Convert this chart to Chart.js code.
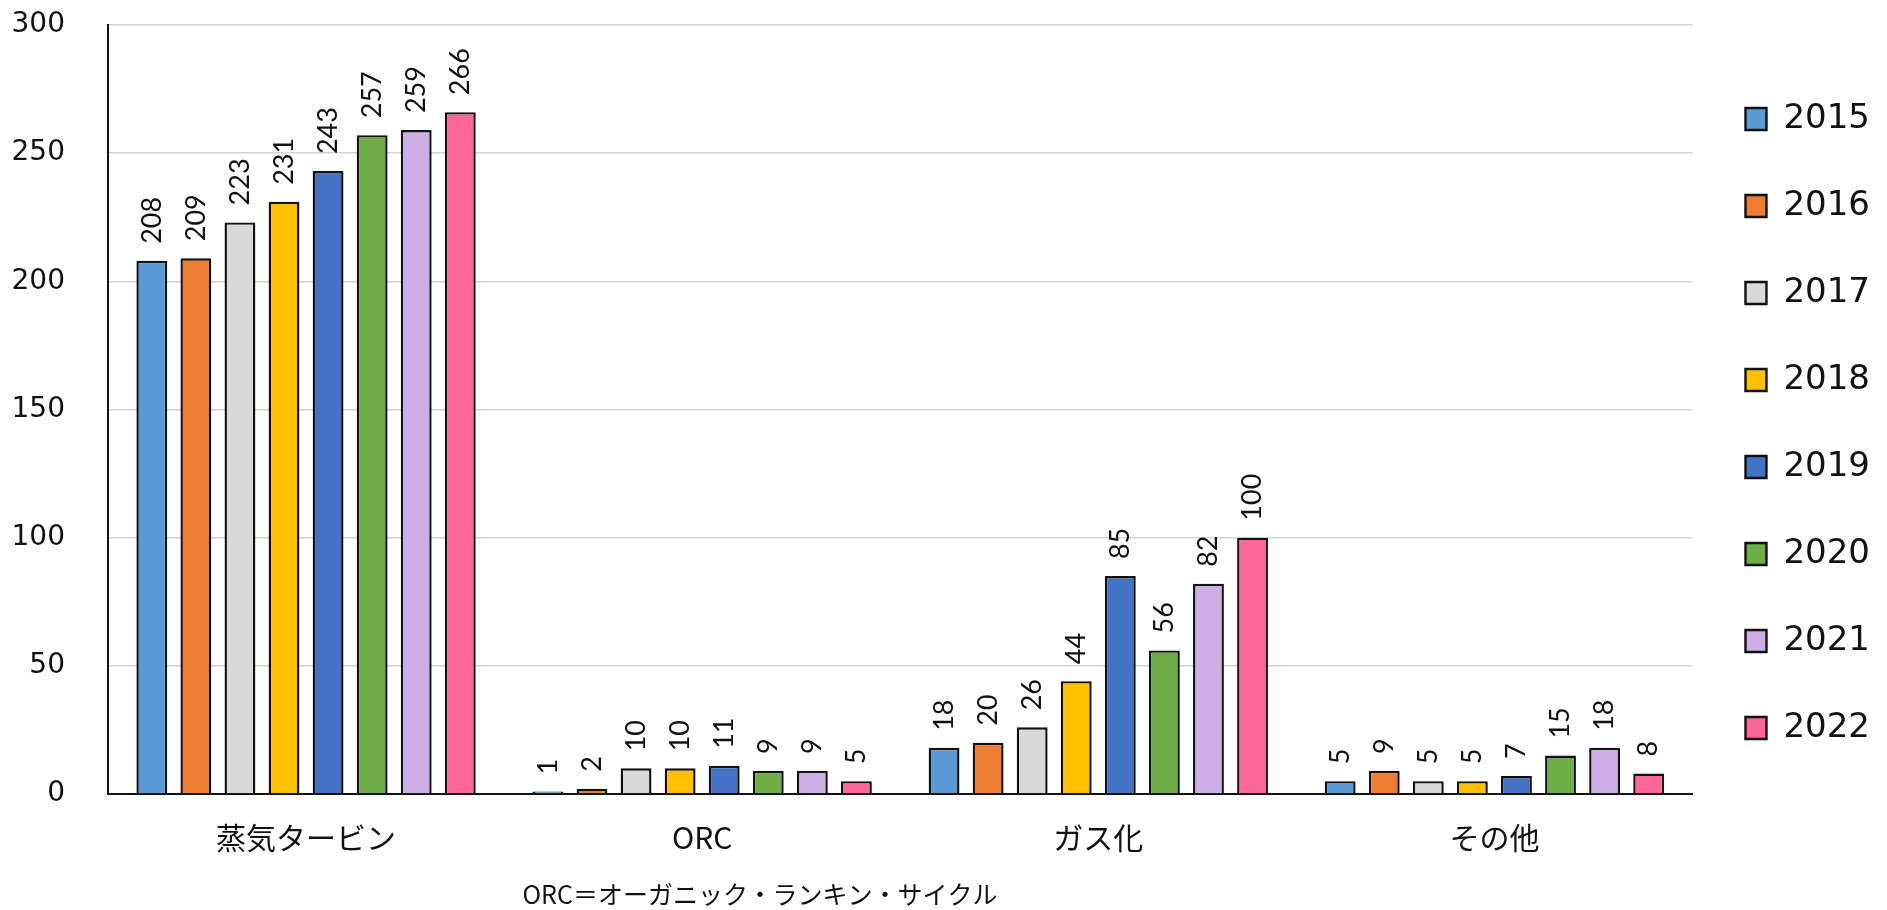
<!DOCTYPE html>
<html>
<head>
<meta charset="utf-8">
<script src="https://cdn.jsdelivr.net/npm/chart.js@4.4.1/dist/chart.umd.min.js"></script>
<style>
html,body{margin:0;padding:0;background:#ffffff;}
canvas{display:block;}
</style>
</head>
<body>
<canvas id="c" width="1887" height="910"></canvas>
<script>
// ---- data ----
const categories = ['蒸気タービン', 'ORC', 'ガス化', 'その他'];
const years = ['2015', '2016', '2017', '2018', '2019', '2020', '2021', '2022'];
const v2015 = [208, 1, 18, 5];
const v2016 = [209, 2, 20, 9];
const v2017 = [223, 10, 26, 5];
const v2018 = [231, 10, 44, 5];
const v2019 = [243, 11, 85, 7];
const v2020 = [257, 9, 56, 15];
const v2021 = [259, 9, 82, 18];
const v2022 = [266, 5, 100, 8];
const yMin = 0;
const yMax = 300;
const yStep = 50;
const noteText = 'ORC＝オーガニック・ランキン・サイクル';

// ---- styles ----
const seriesValues = [v2015, v2016, v2017, v2018, v2019, v2020, v2021, v2022];
const seriesColors = ['#5B9BD5', '#ED7D31', '#D9D9D9', '#FFC000', '#4472C4', '#70AD47', '#CDAFE6', '#FF6699'];

const datasets = years.map((y, i) => ({
  label: y,
  data: seriesValues[i],
  backgroundColor: seriesColors[i],
  borderColor: '#111111',
  borderWidth: 2.4
}));

const valueLabels = {
  id: 'valueLabels',
  afterDatasetsDraw(chart) {
    const ctx = chart.ctx;
    ctx.save();
    ctx.font = '27px Lato, "DejaVu Sans", sans-serif';
    ctx.fillStyle = '#111111';
    chart.data.datasets.forEach((ds, i) => {
      const meta = chart.getDatasetMeta(i);
      meta.data.forEach((el, j) => {
        ctx.save();
        ctx.translate(el.x, el.y - 17);
        ctx.rotate(-Math.PI / 2);
        ctx.textAlign = 'left';
        ctx.textBaseline = 'middle';
        ctx.fillText(String(ds.data[j]), 0, 0);
        ctx.restore();
      });
    });
    ctx.restore();
  }
};

const footNote = {
  id: 'footNote',
  afterDraw(chart) {
    const ctx = chart.ctx;
    ctx.save();
    ctx.font = '25px "Noto Sans CJK JP", sans-serif';
    ctx.fillStyle = '#111111';
    ctx.textAlign = 'center';
    ctx.textBaseline = 'middle';
    ctx.fillText(noteText, 760, 894);
    ctx.restore();
  }
};

new Chart(document.getElementById('c'), {
  type: 'bar',
  data: { labels: categories, datasets: datasets },
  plugins: [valueLabels, footNote],
  options: {
    responsive: false,
    animation: false,
    layout: { padding: { top: 25, right: 7, bottom: 0, left: 0 } },
    datasets: { bar: { categoryPercentage: 0.89, barPercentage: 0.70 } },
    plugins: {
      tooltip: { enabled: false },
      legend: {
        position: 'right',
        align: 'start',
        title: { display: true, text: ' ', font: { size: 10 }, padding: { top: 0, bottom: 12 } },
        labels: {
          font: { family: '"DejaVu Sans", sans-serif', size: 34 },
          color: '#111111',
          boxWidth: 21,
          boxHeight: 22,
          padding: 53
        }
      }
    },
    scales: {
      x: {
        grid: { display: false, drawTicks: false },
        border: { display: true, color: '#111111', width: 2 },
        ticks: {
          font: { family: '"Noto Sans CJK JP", sans-serif', size: 30 },
          color: '#111111',
          padding: 26
        },
        afterFit: (s) => { s.height = 116; }
      },
      y: {
        min: yMin,
        max: yMax,
        ticks: {
          stepSize: yStep,
          font: { family: '"DejaVu Sans", sans-serif', size: 28 },
          color: '#111111',
          padding: 6
        },
        grid: { color: '#D4D4D4', lineWidth: 1.6, drawTicks: true, tickLength: 37, tickColor: 'rgba(0,0,0,0)' },
        border: { display: true, color: '#111111', width: 2 },
        afterFit: (s) => { s.width = 108; }
      }
    }
  }
});
</script>
</body>
</html>
